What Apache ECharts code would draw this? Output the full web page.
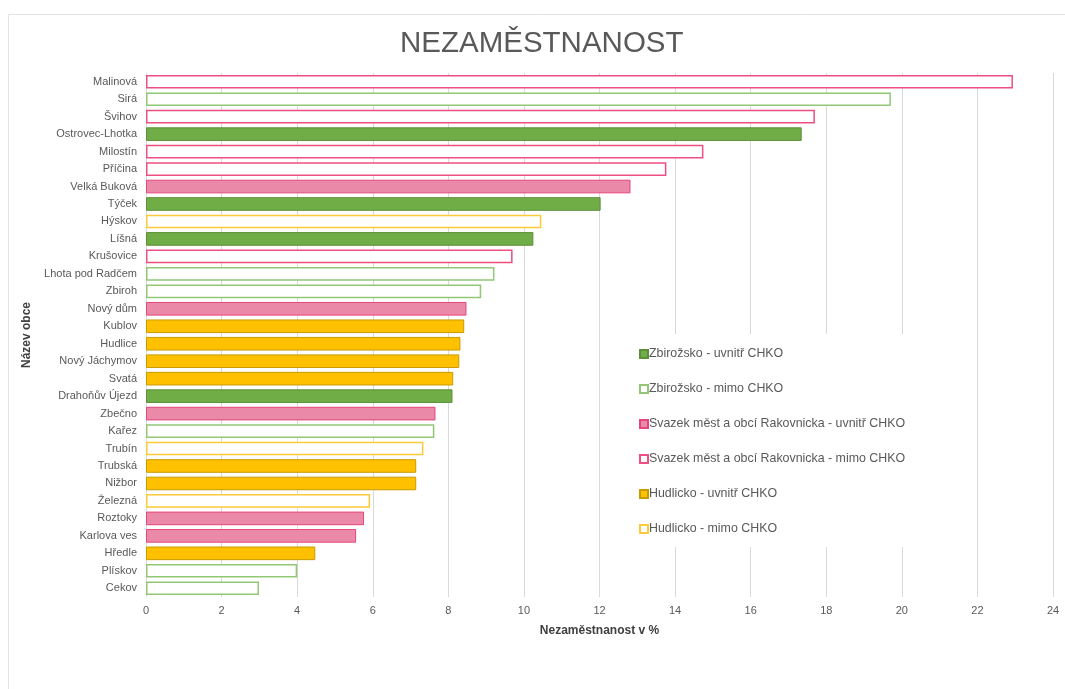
<!DOCTYPE html>
<html>
<head>
<meta charset="utf-8">
<title>Nezaměstnanost</title>
<script src="https://cdn.jsdelivr.net/npm/echarts@6/dist/echarts.min.js"></script>
<style>
  html, body { margin: 0; padding: 0; background: #fff; }
  #chart { width: 1065px; height: 689px; }
</style>
</head>
<body>
<div id="chart"></div>
<script>
// municipalities, top to bottom
const categories = [
  "Malinová", "Sirá", "Švihov", "Ostrovec-Lhotka", "Milostín", "Příčina",
  "Velká Buková", "Týček", "Hýskov", "Líšná", "Krušovice", "Lhota pod Radčem",
  "Zbiroh", "Nový dům", "Kublov", "Hudlice", "Nový Jáchymov", "Svatá",
  "Drahoňův Újezd", "Zbečno", "Kařez", "Trubín", "Trubská", "Nižbor",
  "Železná", "Roztoky", "Karlova ves", "Hředle", "Plískov", "Cekov"
];

// unemployment in %
const values = [
  22.94, 19.71, 17.70, 17.35, 14.75, 13.77,
  12.82, 12.03, 10.46, 10.25, 9.70, 9.22,
  8.87, 8.48, 8.42, 8.32, 8.29, 8.13,
  8.11, 7.66, 7.63, 7.34, 7.15, 7.15,
  5.93, 5.77, 5.56, 4.48, 4.00, 2.99
];

// index into groupNames for each municipality
const groupOf = [
  3, 1, 3, 0, 3, 3,
  2, 0, 5, 0, 3, 1,
  1, 2, 4, 4, 4, 4,
  0, 2, 1, 5, 4, 4,
  5, 2, 2, 4, 1, 1
];

const groupNames = [
  "Zbirožsko - uvnitř CHKO",
  "Zbirožsko - mimo CHKO",
  "Svazek měst a obcí Rakovnicka - uvnitř CHKO",
  "Svazek měst a obcí Rakovnicka - mimo CHKO",
  "Hudlicko - uvnitř CHKO",
  "Hudlicko - mimo CHKO"
];

const groupStyles = [
  { color: "#70ad47", borderColor: "#5b8f38", borderWidth: 1 },
  { color: "#ffffff", borderColor: "#92c775", borderWidth: 1.5 },
  { color: "#ea8aa8", borderColor: "#e5457a", borderWidth: 1 },
  { color: "#ffffff", borderColor: "#ef4f80", borderWidth: 1.5 },
  { color: "#ffc000", borderColor: "#c99b00", borderWidth: 1 },
  { color: "#ffffff", borderColor: "#ffc93a", borderWidth: 1.5 }
];

const font = "'Liberation Sans', Arial, sans-serif";

const series = groupNames.map((name, g) => ({
  name: name,
  type: "bar",
  stack: "all",
  barCategoryGap: "22%",
  itemStyle: groupStyles[g],
  data: values.map((v, i) => (groupOf[i] === g ? v : "-"))
}));

const chart = echarts.init(document.getElementById("chart"));
chart.setOption({
  animation: false,
  backgroundColor: "#ffffff",
  textStyle: { fontFamily: font },
  graphic: [{
    type: "rect",
    silent: true,
    z: -10,
    shape: { x: 8.5, y: 14.5, width: 1200, height: 800 },
    style: { fill: "none", stroke: "#e3e3e3", lineWidth: 1 }
  }],
  title: {
    text: "NEZAMĚSTNANOST",
    left: 395,
    top: 24,
    textStyle: { fontFamily: font, fontSize: 29.5, fontWeight: "normal", color: "#595959" }
  },
  grid: { left: 146, right: 12, top: 73, bottom: 92 },
  legend: {
    orient: "vertical",
    left: 633,
    top: 334,
    itemWidth: 8,
    itemHeight: 8,
    itemGap: 23,
    padding: [14, 14, 12, 6],
    backgroundColor: "#ffffff",
    icon: "rect",
    textStyle: { fontFamily: font, fontSize: 12.4, lineHeight: 11, color: "#595959", padding: [0, 0, 0, -4] },
    data: groupNames
  },
  xAxis: {
    type: "value",
    min: 0,
    max: 24,
    interval: 2,
    name: "Nezaměstnanost v %",
    nameLocation: "middle",
    nameGap: 28,
    nameTextStyle: { fontFamily: font, fontSize: 12, fontWeight: "bold", color: "#404040" },
    axisLine: { show: false },
    axisTick: { show: false },
    axisLabel: { fontFamily: font, fontSize: 11, color: "#595959", margin: 8 },
    splitLine: { show: true, lineStyle: { color: "#d9d9d9", width: 1 } }
  },
  yAxis: {
    type: "category",
    inverse: true,
    data: categories,
    name: "Název obce",
    nameLocation: "middle",
    nameRotate: 90,
    nameGap: 102,
    nameTextStyle: { fontFamily: font, fontSize: 12, fontWeight: "bold", color: "#404040" },
    axisLine: { show: false },
    axisTick: { show: false },
    axisLabel: { fontFamily: font, fontSize: 11, color: "#595959", margin: 9 }
  },
  series: series
});
</script>
</body>
</html>
